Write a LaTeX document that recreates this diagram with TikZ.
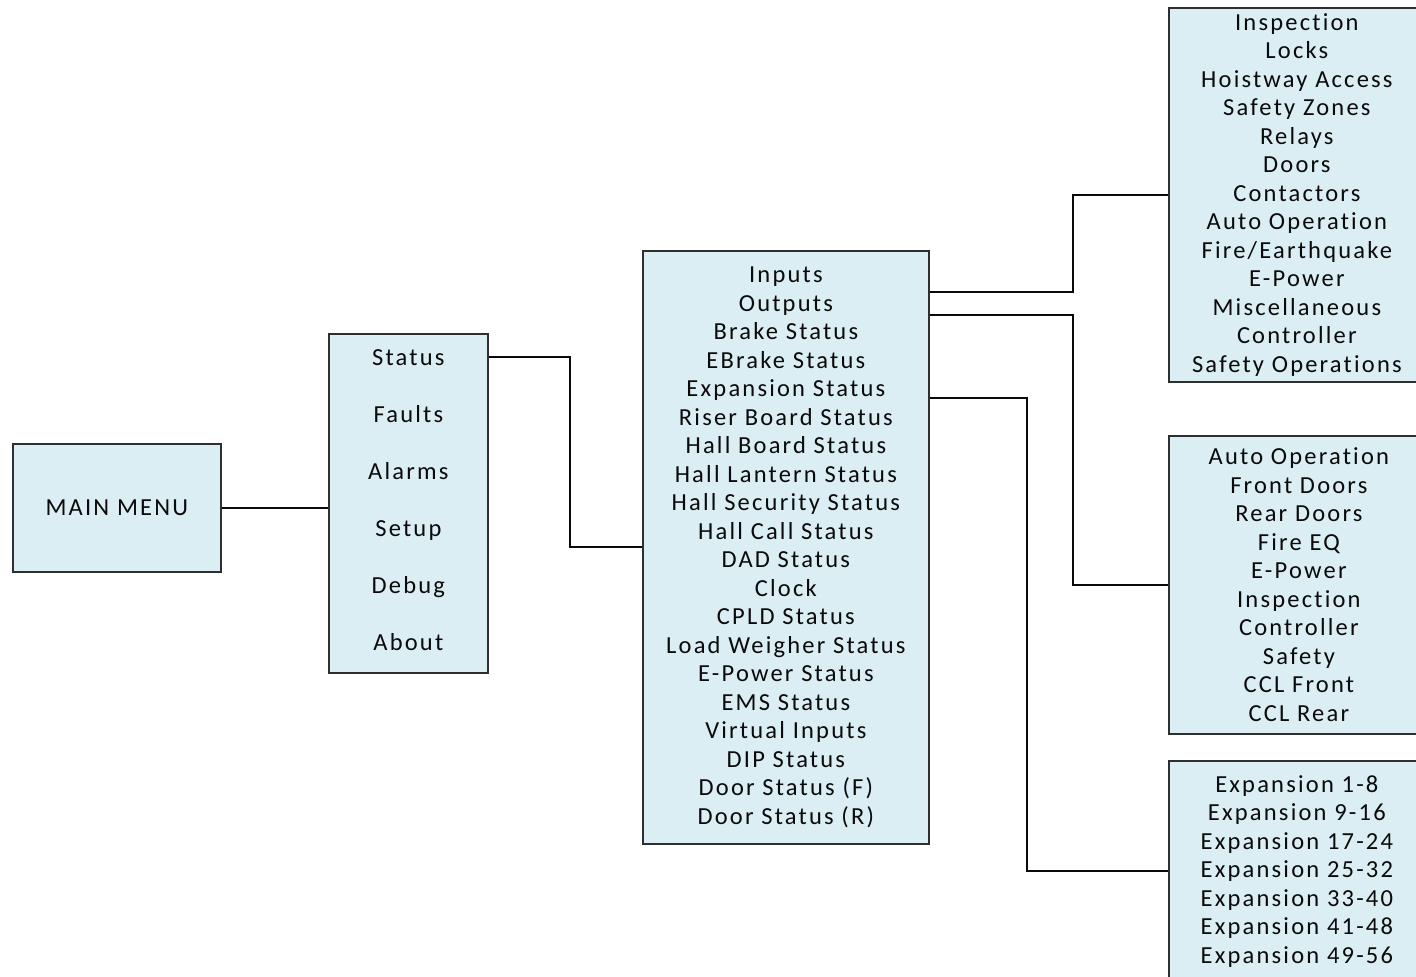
\documentclass[tikz,border=0pt]{standalone}
\usepackage{fontspec}
\setmainfont[LetterSpace=9,Ligatures={NoCommon}]{Carlito}
\usetikzlibrary{calc}
\definecolor{boxfill}{RGB}{219,238,243}
\definecolor{ink}{RGB}{10,10,10}
\tikzset{
  menubox/.style={draw=ink!85, line width=1.7pt, fill=boxfill, inner sep=0pt,
    anchor=north west, align=center, text=ink,
    font=\fontsize{24.5}{28.5}\selectfont},
  link/.style={draw=ink, line width=1.8pt, line join=miter}
}
\begin{document}
\begin{tikzpicture}[x=1pt,y=-1pt]
\useasboundingbox (0,0) rectangle (1416,977);
\clip (0,0) rectangle (1416,977);

% level 0
\node[menubox, minimum width=208pt, minimum height=128pt] (main) at (12,443) {MAIN MENU};

% level 1
\node[menubox, minimum width=159pt, minimum height=339pt,
      font=\fontsize{24.5}{57}\selectfont] (top) at (328,333)
  {Status\\Faults\\Alarms\\Setup\\Debug\\About\rule[-6pt]{0pt}{1pt}};

% status screens
\node[menubox, minimum width=286pt, minimum height=593pt] (status) at (642,250)
  {Inputs\\Outputs\\Brake Status\\EBrake Status\\Expansion Status\\Riser Board Status\\
   Hall Board Status\\Hall Lantern Status\\Hall Security Status\\Hall Call Status\\
   DAD Status\\Clock\\CPLD Status\\Load Weigher Status\\E-Power Status\\EMS Status\\
   Virtual Inputs\\DIP Status\\Door Status (F)\\Door Status (R)};

% inputs groups
\node[menubox, minimum width=256pt, minimum height=374pt] (inputs) at (1168,7)
  {Inspection\\Locks\\Hoistway Access\\Safety Zones\\Relays\\Doors\\Contactors\\
   Auto Operation\\Fire/Earthquake\\E-Power\\Miscellaneous\\Controller\\Safety Operations};

% outputs groups
\node[menubox, minimum width=260pt, minimum height=298pt] (outputs) at (1168,435)
  {Auto Operation\\Front Doors\\Rear Doors\\Fire EQ\\E-Power\\Inspection\\Controller\\
   Safety\\CCL Front\\CCL Rear};

% expansion boards
\node[menubox, minimum width=256pt, minimum height=221pt] (expansion) at (1168,760)
  {Expansion 1-8\\Expansion 9-16\\Expansion 17-24\\Expansion 25-32\\
   Expansion 33-40\\Expansion 41-48\\Expansion 49-56};

% connector ports on the menu boxes
\coordinate (pStatus) at ([yshift=-24pt]top.north east);
\coordinate (pIn)  at ([yshift=-42pt]status.north east);
\coordinate (pOut) at ([yshift=-65pt]status.north east);
\coordinate (pExp) at ([yshift=-148pt]status.north east);

% connectors
\draw[link] (main.east) -- (main.east -| top.west);
\draw[link] (pStatus) -- ++(81,0) |- (status.west);
\draw[link] (pIn)  -- ++(143,0) |- (inputs.west);
\draw[link] (pOut) -- ++(143,0) |- (outputs.west);
\draw[link] (pExp) -- ++(97,0)  |- (expansion.west);
\end{tikzpicture}
\end{document}
